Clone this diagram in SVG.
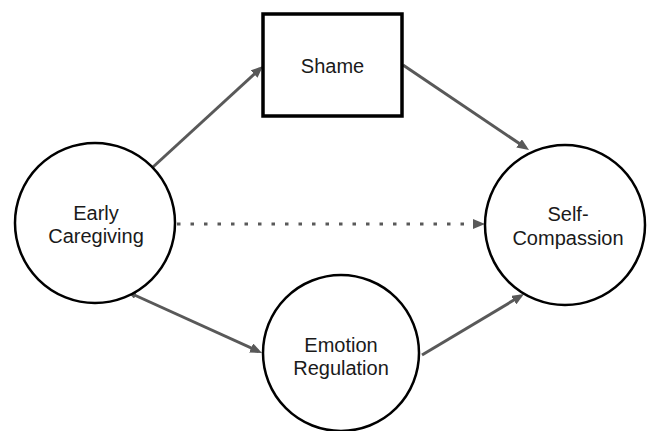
<svg xmlns="http://www.w3.org/2000/svg" width="647" height="431" viewBox="0 0 647 431">
  <defs>
    <marker id="arrow" markerUnits="userSpaceOnUse" markerWidth="12" markerHeight="10" refX="8" refY="5" orient="auto">
      <path d="M0,0 L12,5 L0,10 Z" fill="#595959"/>
    </marker>
    <marker id="arrowSmall" markerUnits="userSpaceOnUse" markerWidth="8" markerHeight="7" refX="6" refY="3.5" orient="auto-start-reverse">
      <path d="M0,0 L8,3.5 L0,7 Z" fill="#595959"/>
    </marker>
    <style>
      .node { fill: #ffffff; stroke: #000000; stroke-width: 2.5; }
      .box { fill: #ffffff; stroke: #000000; stroke-width: 3.5; }
      .label { font-family: "Liberation Sans", Arial, sans-serif; font-size: 20px; fill: #1a1a1a; text-anchor: middle; }
      .edge { stroke: #595959; stroke-width: 3; fill: none; marker-end: url(#arrow); }
      .dotted { stroke: #595959; stroke-width: 3; fill: none; stroke-dasharray: 3.5 10; marker-end: url(#arrow); }
    </style>
  </defs>
  <rect width="647" height="431" fill="#ffffff"/>

  <g id="connectors">
    <line class="edge" x1="153" y1="167" x2="260.05" y2="68.7"/>
    <line class="edge" x1="403" y1="65" x2="525.7" y2="147.8"/>
    <line class="dotted" x1="177" y1="224" x2="481" y2="224"/>
    <line class="edge" x1="130" y1="293" x2="258.4" y2="351.3" style="marker-start: url(#arrowSmall)"/>
    <line class="edge" x1="422" y1="355" x2="520.6" y2="296.05"/>
  </g>

  <g id="early-caregiving">
    <circle class="node" cx="95" cy="223" r="80"/>
    <text class="label" x="96" y="220">Early</text>
    <text class="label" x="96" y="243">Caregiving</text>
  </g>

  <g id="shame">
    <rect class="box" x="263" y="14" width="139" height="102"/>
    <text class="label" x="332.5" y="73">Shame</text>
  </g>

  <g id="self-compassion">
    <circle class="node" cx="565" cy="225" r="80"/>
    <text class="label" x="568" y="221">Self-</text>
    <text class="label" x="568" y="245">Compassion</text>
  </g>

  <g id="emotion-regulation">
    <circle class="node" cx="341" cy="353" r="78"/>
    <text class="label" x="341" y="352">Emotion</text>
    <text class="label" x="341" y="375">Regulation</text>
  </g>
</svg>
